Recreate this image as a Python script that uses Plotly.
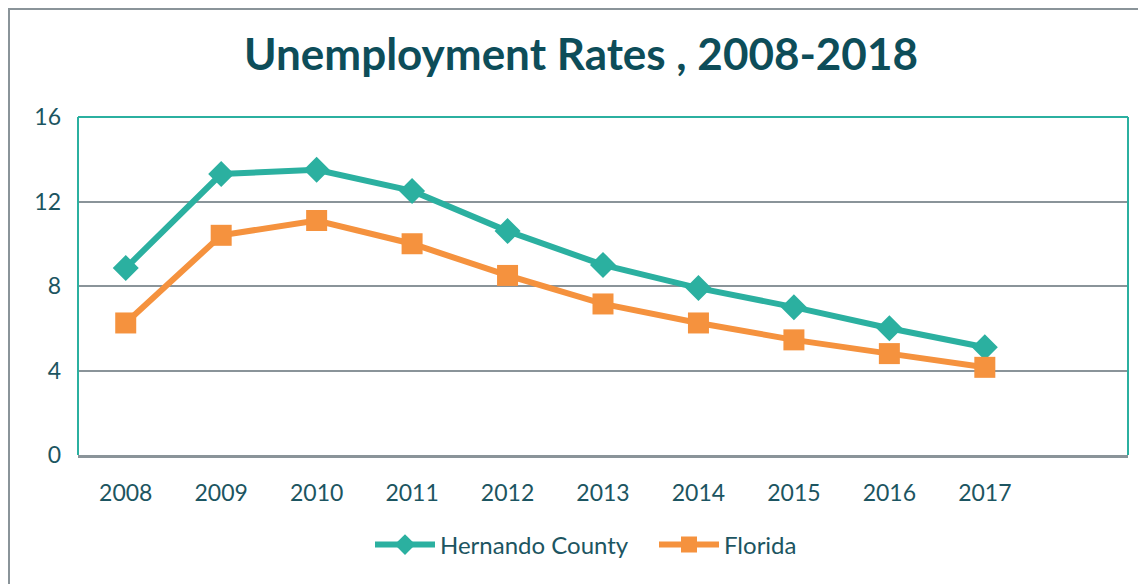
import plotly.graph_objects as go

years = ["2008", "2009", "2010", "2011", "2012", "2013", "2014", "2015", "2016", "2017"]
hernando = [8.85, 13.3, 13.5, 12.5, 10.6, 9.0, 7.9, 7.0, 6.0, 5.1]
florida = [6.25, 10.4, 11.1, 10.0, 8.5, 7.15, 6.25, 5.45, 4.8, 4.15]
y_ticks = [0, 4, 8, 12, 16]

W, H = 1146, 584
OFF = 8  # page body margin
L, R, T, B = 78 - OFF, 1128 - OFF, 117 - OFF, 455 - OFF
pw, ph = R - L, B - T

teal = "#2bb0a0"
orange = "#f5923e"
txt = "#1c5561"
font = "Lato, 'Open Sans', sans-serif"

xs = list(range(len(years)))

fig = go.Figure()
fig.add_trace(go.Scatter(
    x=xs, y=hernando, name="Hernando County", mode="lines+markers",
    line=dict(color=teal, width=6),
    marker=dict(symbol="diamond", size=20, color=teal),
))
fig.add_trace(go.Scatter(
    x=xs, y=florida, name="Florida", mode="lines+markers",
    line=dict(color=orange, width=6),
    marker=dict(symbol="square", size=21, color=orange),
))

# outer chart border
fig.add_shape(type="rect", xref="paper", yref="paper",
              x0=(1 - L) / pw, x1=(W + 20 - L) / pw,
              y0=(B - (H + 20)) / ph, y1=1 + (T - 1) / ph,
              line=dict(color="#8a9499", width=2), layer="below")
# plot border: teal left/top/right, gray bottom
fig.add_shape(type="line", xref="paper", yref="paper", x0=0, x1=0, y0=0, y1=1,
              line=dict(color=teal, width=2))
fig.add_shape(type="line", xref="paper", yref="paper", x0=0, x1=1, y0=1, y1=1,
              line=dict(color=teal, width=2))
fig.add_shape(type="line", xref="paper", yref="paper", x0=1, x1=1, y0=0, y1=1,
              line=dict(color=teal, width=2))

fig.update_layout(
    width=W, height=H,
    margin=dict(l=L, r=W - R, t=T, b=H - B),
    paper_bgcolor="white", plot_bgcolor="white",
    title=dict(text="<b>Unemployment Rates , 2008-2018</b>", x=(581 - OFF) / W, xref="container",
               xanchor="center", y=1 - (55 - OFF) / H, yanchor="middle",
               font=dict(family=font, size=44, color="#0d4d59")),
    xaxis=dict(tickmode="array", tickvals=xs, ticktext=years, range=[-0.5, 10.5],
               showgrid=False, zeroline=False, showline=True, linecolor="#8a9499", linewidth=3,
               ticks="", ticklabelstandoff=15,
               tickfont=dict(family=font, size=23, color=txt), fixedrange=True),
    yaxis=dict(tickmode="array", tickvals=y_ticks, range=[0, 16],
               showgrid=True, gridcolor="#8a9499", gridwidth=2, zeroline=False,
               showline=False, ticks="", ticklabelstandoff=16,
               tickfont=dict(family=font, size=23, color=txt), fixedrange=True),
    legend=dict(orientation="h", x=(378 - 8 - OFF) / W, xanchor="left", xref="container",
                y=1 - (545 - OFF) / H, yref="container", yanchor="middle",
                font=dict(family=font, size=24, color=txt), itemwidth=60,
                entrywidth=209, entrywidthmode="pixels"),
    showlegend=True,
)

fig.write_html("out.html")
